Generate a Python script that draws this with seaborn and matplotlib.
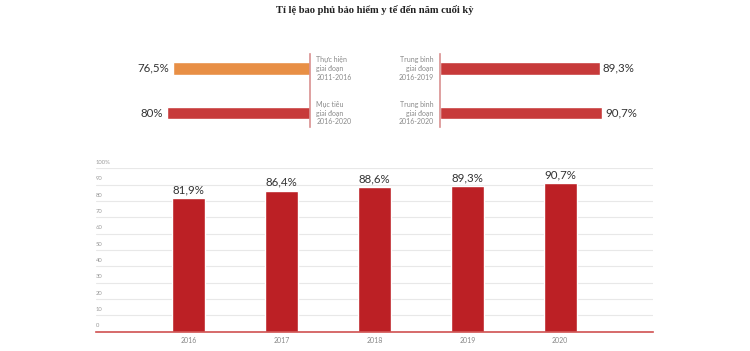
import matplotlib
matplotlib.use("Agg")
import matplotlib.pyplot as plt
import seaborn as sns
import pandas as pd

# ---- data ----
title = "Tỉ lệ bao phủ bảo hiểm y tế đến năm cuối kỳ"
left_labels = ["Thực hiện\ngiai đoạn\n2011-2016", "Mục tiêu\ngiai đoạn\n2016-2020"]
left_values = [76.5, 80.0]
left_text = ["76,5%", "80%"]
right_labels = ["Trung bình\ngiai đoạn\n2016-2019", "Trung bình\ngiai đoạn\n2016-2020"]
right_values = [89.3, 90.7]
right_text = ["89,3%", "90,7%"]
years = ["2016", "2017", "2018", "2019", "2020"]
year_values = [81.9, 86.4, 88.6, 89.3, 90.7]
year_text = ["81,9%", "86,4%", "88,6%", "89,3%", "90,7%"]
y_ticks = [0, 10, 20, 30, 40, 50, 60, 70, 80, 90, 100]
y_tick_labels = ["0", "10", "20", "30", "40", "50", "60", "70", "80", "90", "100%"]

sns.set_theme(style="white")
plt.rcParams["font.family"] = ["Lato", "DejaVu Sans"]

W, H = 750, 351
fig = plt.figure(figsize=(7.5, 3.51), dpi=100)
fig.patch.set_facecolor("white")

def box(x0, y0, x1, y1):
    return [x0 / W, (H - y1) / H, (x1 - x0) / W, (y1 - y0) / H]

ORANGE = "#E88F45"
RED_TOP = "#C73A3A"
RED = "#BC2025"
SPINE = "#D99090"
GRAY = "#8a8a8a"
TXT = "#333333"

fig.text(0.5, 1 - 10 / H, title, ha="center", va="center", fontsize=7.6,
         fontweight="bold", family=["Liberation Serif", "DejaVu Serif"], color="#222222")

# ---- top-left panel ----
axL = fig.add_axes(box(131, 54, 310, 127))
dfL = pd.DataFrame({"label": left_labels, "value": left_values})
sns.barplot(data=dfL, y="label", x="value", hue="label",
            palette=[ORANGE, RED_TOP], orient="h", width=0.29,
            ax=axL, legend=False, saturation=1)
axL.set_xlim(100, 0)
axL.set_ylim(1.313, -0.32)
for s in ["top", "left", "bottom"]:
    axL.spines[s].set_visible(False)
axL.spines["right"].set_color(SPINE)
axL.spines["right"].set_linewidth(1.2)
axL.set_xticks([]); axL.set_yticks([])
axL.set_xlabel(""); axL.set_ylabel("")
for i, (v, t) in enumerate(zip(left_values, left_text)):
    axL.annotate(t, (v, i), xytext=(-3, 0), textcoords="offset points",
                 ha="right", va="center", fontsize=8.3, color=TXT)
    axL.annotate(left_labels[i], (0, i), xytext=(4.5, 0), textcoords="offset points",
                 ha="left", va="center", fontsize=5, color=GRAY, linespacing=1.3,
                 annotation_clip=False)

# ---- top-right panel ----
axR = fig.add_axes(box(440, 54, 619, 127))
dfR = pd.DataFrame({"label": right_labels, "value": right_values})
sns.barplot(data=dfR, y="label", x="value", color=RED_TOP, orient="h",
            width=0.29, ax=axR, saturation=1)
axR.set_xlim(0, 100)
axR.set_ylim(1.313, -0.32)
for s in ["top", "right", "bottom"]:
    axR.spines[s].set_visible(False)
axR.spines["left"].set_color(SPINE)
axR.spines["left"].set_linewidth(1.2)
axR.set_xticks([]); axR.set_yticks([])
axR.set_xlabel(""); axR.set_ylabel("")
for i, (v, t) in enumerate(zip(right_values, right_text)):
    axR.annotate(t, (v, i), xytext=(2, 0), textcoords="offset points",
                 ha="left", va="center", fontsize=8.3, color=TXT)
    axR.annotate(right_labels[i], (0, i), xytext=(-4.5, 0), textcoords="offset points",
                 ha="right", va="center", fontsize=5, color=GRAY, linespacing=1.3,
                 annotation_clip=False, multialignment="right")

# ---- bottom bar chart ----
axB = fig.add_axes(box(96, 168.3, 653, 331.7))
dfB = pd.DataFrame({"year": years, "value": year_values})
sns.barplot(data=dfB, x="year", y="value", color=RED, width=0.355,
            ax=axB, saturation=1, zorder=3)
axB.set_xlim(-1, 5)
axB.set_ylim(0, 100)
for s in ["top", "right", "left"]:
    axB.spines[s].set_visible(False)
axB.spines["bottom"].set_color("#D05050")
axB.spines["bottom"].set_linewidth(1.2)
axB.spines["bottom"].set_zorder(4)
axB.set_yticks([])
for t in y_ticks[1:]:
    axB.axhline(t, color="#e8e8e8", lw=0.8, zorder=0)
for t, lab in zip(y_ticks, y_tick_labels):
    axB.annotate(lab, (0, t), xycoords=("axes fraction", "data"),
                 xytext=(0, 2.5), textcoords="offset points",
                 ha="left", va="bottom", fontsize=4.2, color="#999999")
axB.tick_params(axis="x", length=0, pad=4, labelsize=5, labelcolor="#888888")
axB.set_xlabel(""); axB.set_ylabel("")
for i, (v, t) in enumerate(zip(year_values, year_text)):
    axB.annotate(t, (i, v), xytext=(0, 2), textcoords="offset points",
                 ha="center", va="bottom", fontsize=8.3, color=TXT)

fig.savefig("out.png", dpi=100, facecolor="white")
